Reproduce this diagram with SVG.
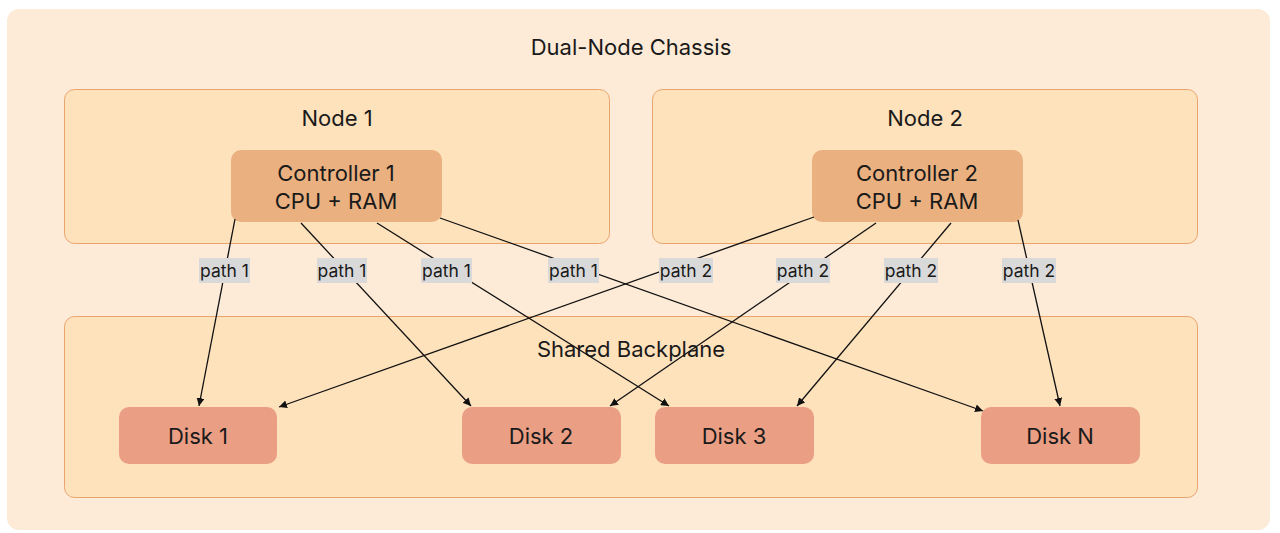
<svg xmlns="http://www.w3.org/2000/svg" width="1280" height="533" viewBox="0 0 1280 533">
<defs>
<marker id="arr" viewBox="0 0 10 10" refX="10" refY="5" markerWidth="8" markerHeight="8" markerUnits="userSpaceOnUse" orient="auto">
<path d="M0,0 L10,5 L0,10 z" fill="#111"/>
</marker>
<style>
text{font-family:Inter,"Noto Sans","Liberation Sans",sans-serif;fill:#1a1a1a;text-anchor:middle}
.grp{fill:#FEE2BC;stroke:#E9A46E;stroke-width:1}
.ctl{fill:#EBB07F}
.disk{fill:#EA9E84}
.t20{font-size:22px}
.lbl rect{fill:#D9D9D9}
.lbl text{font-size:17.5px}
.edge{stroke:#111;stroke-width:1.3;fill:none;marker-end:url(#arr)}
</style>
</defs>
<g id="chassis">
<rect x="7" y="9" width="1263" height="521" rx="12" fill="#FDEBD7"/>
<text class="t20" x="631" y="55">Dual-Node Chassis</text>
</g>
<g id="node1">
<rect class="grp" x="64.5" y="89.5" width="545" height="154" rx="10"/>
<text class="t20" x="337" y="126">Node 1</text>
</g>
<g id="node2">
<rect class="grp" x="652.5" y="89.5" width="545" height="154" rx="10"/>
<text class="t20" x="925" y="126">Node 2</text>
</g>
<g id="backplane">
<rect class="grp" x="64.5" y="316.5" width="1133" height="181" rx="10"/>
<text class="t20" x="631" y="357">Shared Backplane</text>
</g>
<g id="controller1">
<rect class="ctl" x="231" y="150" width="211" height="72" rx="10"/>
<text class="t20" x="336" y="181">Controller 1</text>
<text class="t20" x="336" y="209">CPU + RAM</text>
</g>
<g id="controller2">
<rect class="ctl" x="812" y="150" width="211" height="72" rx="10"/>
<text class="t20" x="917" y="181">Controller 2</text>
<text class="t20" x="917" y="209">CPU + RAM</text>
</g>
<g id="disk1">
<rect class="disk" x="119" y="407" width="158" height="57" rx="10"/>
<text class="t20" x="198" y="444">Disk 1</text>
</g>
<g id="disk2">
<rect class="disk" x="462" y="407" width="159" height="57" rx="10"/>
<text class="t20" x="541" y="444">Disk 2</text>
</g>
<g id="disk3">
<rect class="disk" x="655" y="407" width="159" height="57" rx="10"/>
<text class="t20" x="734" y="444">Disk 3</text>
</g>
<g id="diskN">
<rect class="disk" x="981" y="407" width="159" height="57" rx="10"/>
<text class="t20" x="1060" y="444">Disk N</text>
</g>
<g id="connectors">
<line class="edge" x1="235" y1="219" x2="199" y2="406"/>
<line class="edge" x1="301" y1="223" x2="471" y2="406"/>
<line class="edge" x1="377" y1="223" x2="669" y2="406"/>
<line class="edge" x1="440" y1="218" x2="983" y2="411"/>
<line class="edge" x1="814" y1="217" x2="279" y2="407"/>
<line class="edge" x1="876" y1="223" x2="610" y2="406"/>
<line class="edge" x1="951" y1="223" x2="797" y2="406"/>
<line class="edge" x1="1018" y1="220" x2="1060" y2="406"/>
<g class="lbl">
<rect x="199" y="258" width="51" height="25"/><text x="224.5" y="277">path 1</text>
<rect x="317" y="258" width="50" height="25"/><text x="342" y="277">path 1</text>
<rect x="421" y="258" width="51" height="25"/><text x="446.5" y="277">path 1</text>
<rect x="548" y="258" width="51" height="25"/><text x="573.5" y="277">path 1</text>
<rect x="659" y="258" width="54" height="25"/><text x="686" y="277">path 2</text>
<rect x="776" y="258" width="54" height="25"/><text x="803" y="277">path 2</text>
<rect x="884" y="258" width="54" height="25"/><text x="911" y="277">path 2</text>
<rect x="1002" y="258" width="54" height="25"/><text x="1029" y="277">path 2</text>
</g>
</g>
</svg>
